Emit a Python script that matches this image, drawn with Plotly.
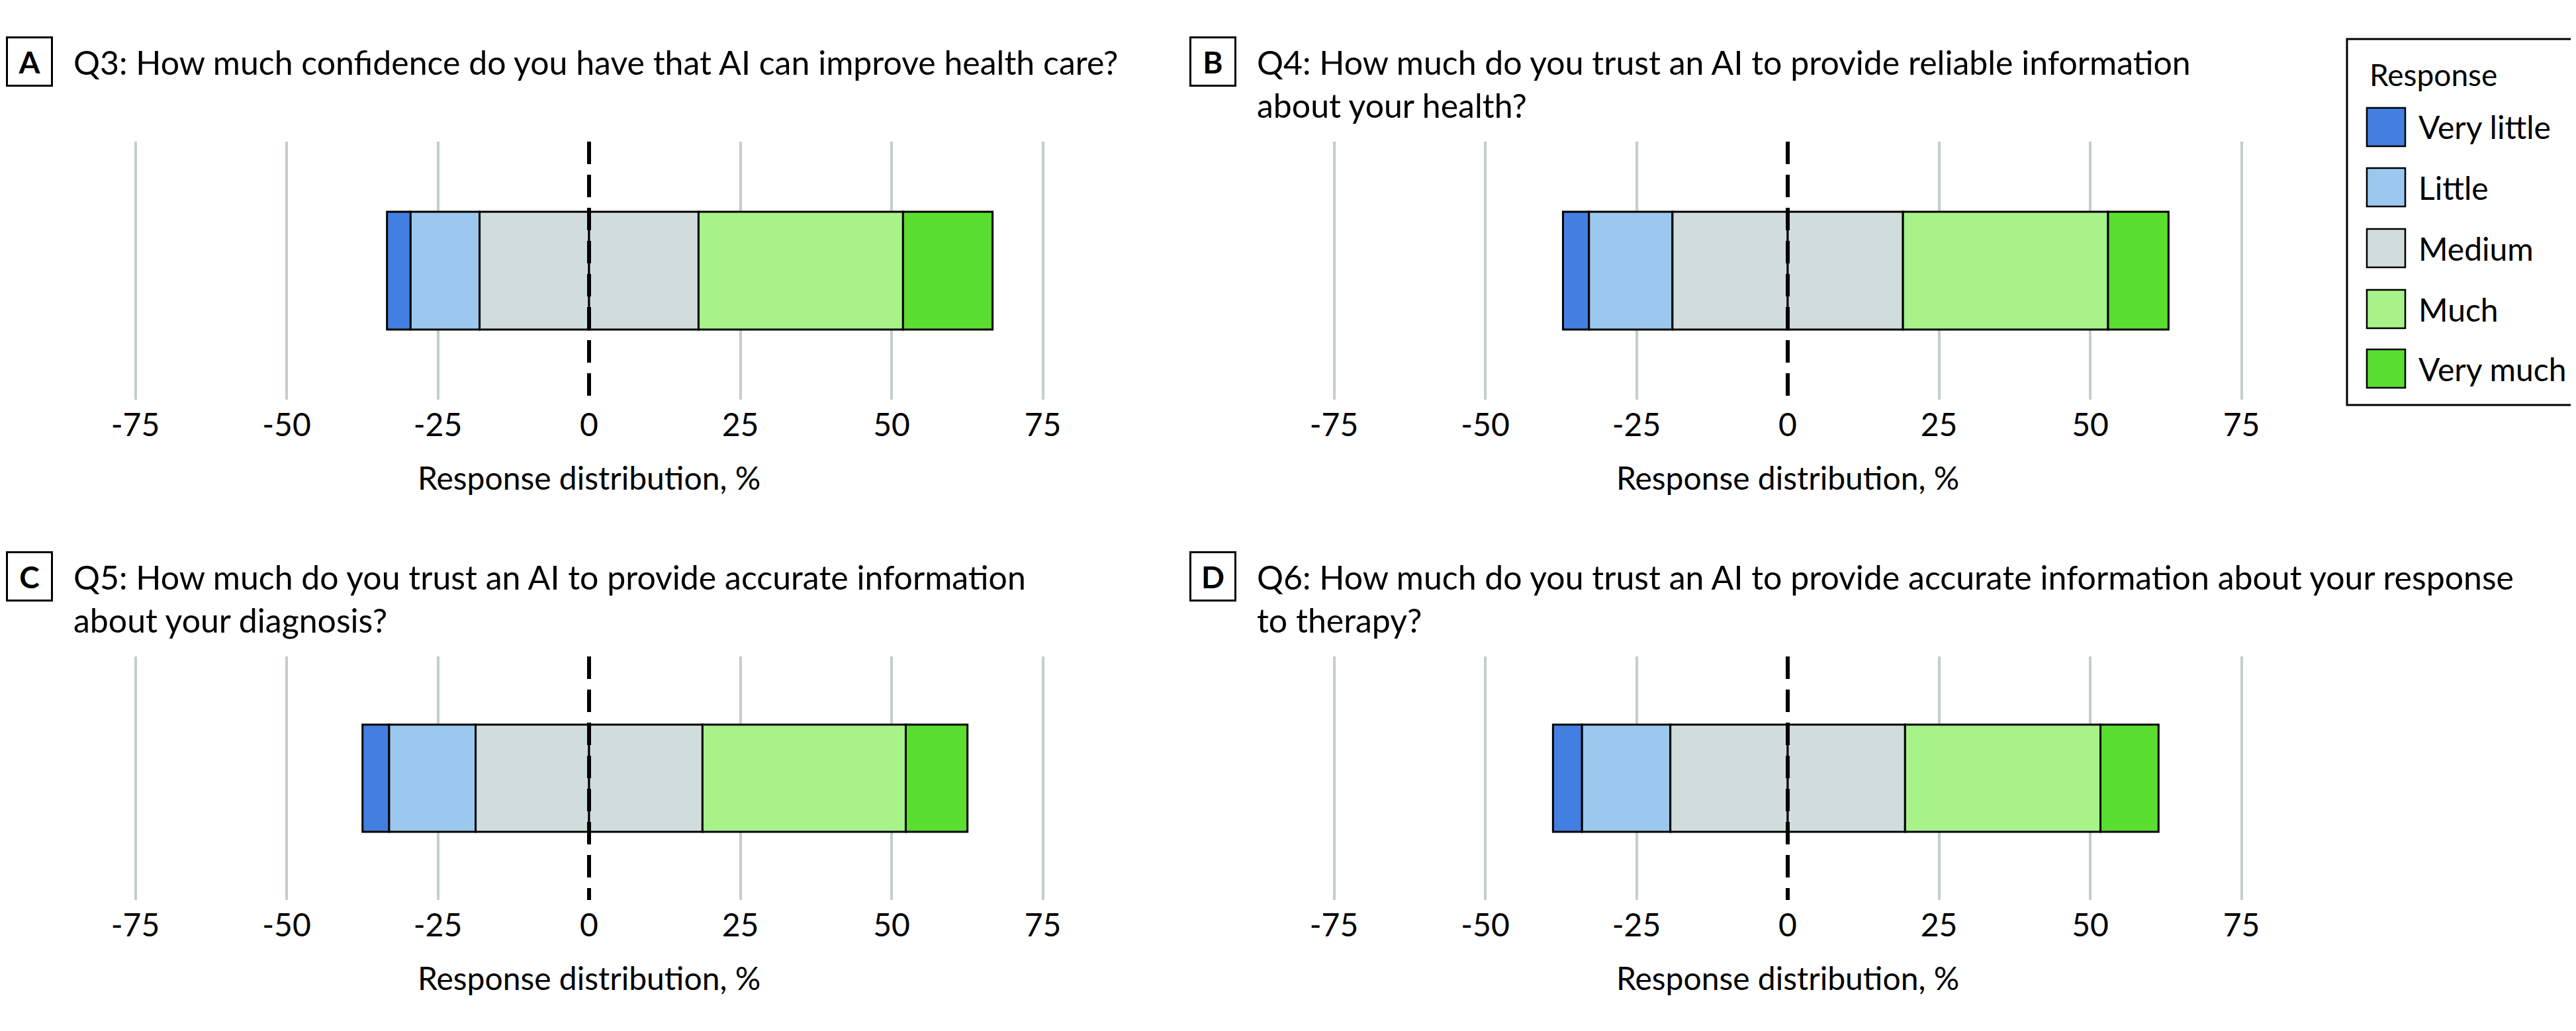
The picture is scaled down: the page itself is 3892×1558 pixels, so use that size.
import plotly.graph_objects as go

# ---------------- data ----------------
panel_letters = ["A", "B", "C", "D"]
questions = [
    "Q3: How much confidence do you have that AI can improve health care?",
    "Q4: How much do you trust an AI to provide reliable information<br>about your health?",
    "Q5: How much do you trust an AI to provide accurate information<br>about your diagnosis?",
    "Q6: How much do you trust an AI to provide accurate information about your response<br>to therapy?",
]
responses = ["Very little", "Little", "Medium", "Much", "Very much"]
very_little = [3.9, 4.3, 4.4, 4.8]
little = [11.4, 13.8, 14.3, 14.6]
medium = [36.2, 38.1, 37.5, 38.8]
much = [33.8, 33.9, 33.6, 32.3]
very_much = [14.8, 10.0, 10.2, 9.6]
tick_vals = [-75, -50, -25, 0, 25, 50, 75]
tick_text = ["-75", "-50", "-25", "0", "25", "50", "75"]
axis_title = "Response distribution, %"
legend_title = "Response"

# ---------------- style ----------------
W, H = 3892, 1558
FONT = "Lato"
colors = ["#427fe0", "#9bc8ee", "#d0ddda", "#a8f28a", "#5ade30"]
grid_color = "#c3cdcd"

def fx(px):
    return px / W

def fy(px):
    return 1 - px / H

col_x = [(59.4, 1704.6), (1870.4, 3515.6)]
row_y = [(206, 596), (984, 1352)]
bar_w = [0.456, 0.44]
box_x = [(2, 71), (1790, 1859)]
title_x = [101, 1889]
row_top = [49, 827]

fig = go.Figure()
layout = dict(
    width=W, height=H,
    margin=dict(l=0, r=0, t=0, b=0),
    paper_bgcolor="white", plot_bgcolor="white",
    barmode="overlay", showlegend=False,
    font=dict(family=FONT, color="black", size=48),
)
shapes = []
annotations = []

for i in range(4):
    r, c = divmod(i, 2)
    n = i + 1
    xa = "x" if n == 1 else f"x{n}"
    ya = "y" if n == 1 else f"y{n}"
    vl, li, me, mu, vm = very_little[i], little[i], medium[i], much[i], very_much[i]
    segs = [
        (vl, -me / 2 - li - vl, colors[0]),
        (li, -me / 2 - li, colors[1]),
        (me / 2, -me / 2, colors[2]),
        (me / 2, 0, colors[2]),
        (mu, me / 2, colors[3]),
        (vm, me / 2 + mu, colors[4]),
    ]
    for val, base, col in segs:
        fig.add_trace(go.Bar(
            x=[val], base=[base], y=[questions[i]], orientation="h",
            width=bar_w[r], xaxis=xa, yaxis=ya,
            marker=dict(color=col, line=dict(color="black", width=3)),
            hoverinfo="skip",
        ))
    x0, x1 = col_x[c]
    y0, y1 = row_y[r]
    layout["xaxis" if n == 1 else f"xaxis{n}"] = dict(
        domain=[fx(x0), fx(x1)], range=[-90, 90], anchor=ya,
        tickvals=tick_vals, ticktext=tick_text, ticks="",
        showgrid=True, gridcolor=grid_color, gridwidth=4,
        zeroline=True, zerolinecolor="white", zerolinewidth=5,
        showline=False, tickfont=dict(size=48, family=FONT),
        ticklabelstandoff=6,
        title=dict(text=axis_title, font=dict(size=48, family=FONT), standoff=38),
        fixedrange=True,
    )
    layout["yaxis" if n == 1 else f"yaxis{n}"] = dict(
        domain=[fy(y1), fy(y0)], anchor=xa, range=[-0.5, 0.5],
        showticklabels=False, showgrid=False, zeroline=False, showline=False,
        fixedrange=True,
    )
    # dashed centre line at 0
    shapes.append(dict(type="line", xref=xa, x0=0, x1=0,
                       yref=f"{ya} domain", y0=1, y1=0,
                       line=dict(color="black", width=6, dash="34px,16px"),
                       layer="above"))
    # panel letter box
    bx0, bx1 = box_x[c]
    top = row_top[r]
    annotations.append(dict(
        xref="paper", yref="paper", x=fx((bx0 + bx1) / 2), y=fy(top + 36),
        xanchor="center", yanchor="middle", text=f"<b>{panel_letters[i]}</b>",
        showarrow=False, bordercolor="black", borderwidth=3, borderpad=0,
        width=bx1 - bx0 - 4, height=70, font=dict(size=46, family=FONT),
    ))
    annotations.append(dict(
        xref="paper", yref="paper", x=fx(title_x[c]), y=fy(top + 5),
        xanchor="left", yanchor="top", align="left", text=questions[i],
        showarrow=False, font=dict(size=50, family=FONT),
    ))

# ---------------- manual legend ----------------
shapes.append(dict(type="rect", xref="paper", yref="paper",
                   x0=fx(3538), x1=fx(3889), y0=fy(51), y1=fy(604),
                   line=dict(color="black", width=3), fillcolor="rgba(0,0,0,0)"))
annotations.append(dict(xref="paper", yref="paper", x=fx(3570), y=fy(104),
                        xanchor="left", yanchor="middle", text=legend_title,
                        showarrow=False, font=dict(size=46, family=FONT)))
item_y = [184, 275, 367, 459, 549]
for k, name in enumerate(responses):
    yc = item_y[k]
    shapes.append(dict(type="rect", xref="paper", yref="paper",
                       x0=fx(3568), x1=fx(3626), y0=fy(yc + 29), y1=fy(yc - 29),
                       line=dict(color="black", width=2.5), fillcolor=colors[k]))
    annotations.append(dict(xref="paper", yref="paper", x=fx(3644), y=fy(yc),
                            xanchor="left", yanchor="middle", text=name,
                            showarrow=False, font=dict(size=48, family=FONT)))

layout["shapes"] = shapes
layout["annotations"] = annotations
fig.update_layout(**layout)
fig.write_html("out.html")
